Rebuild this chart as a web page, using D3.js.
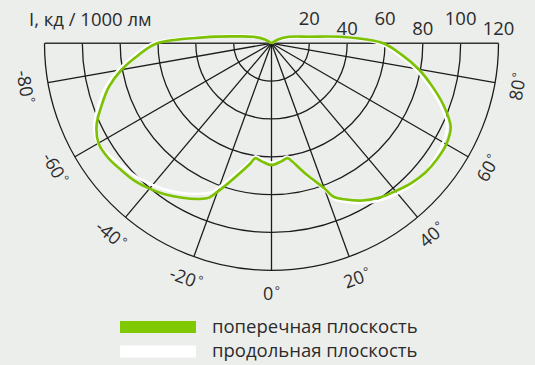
<!DOCTYPE html>
<html>
<head>
<meta charset="utf-8">
<script src="https://cdn.jsdelivr.net/npm/d3@7"></script>
<style>
  body { margin: 0; background: #eceeec; }
  text { font-family: "Open Sans", sans-serif; fill: #2b2b2b; }
</style>
</head>
<body>
<div id="chart"></div>
<script>
// angles in degrees, 0 = straight down, positive to the right
var angles = [-130, -120, -110, -100, -95, -90, -85, -80, -75, -70, -65, -60, -55, -50, -45, -40, -35, -30, -25, -22, -20, -15, -10, -8, -5, 0,
              5, 8, 10, 15, 20, 22, 25, 30, 35, 40, 45, 50, 55, 60, 65, 70, 75, 80, 85, 90, 95, 100, 110, 120, 130];
var crossPlane = [0, 4, 10, 21, 36, 60.5, 70.5, 80.5, 89, 95.5, 102, 105.6, 105.5, 104, 102.6, 100.3, 97.6, 94.3, 90.8, 88, 83.6, 73, 64.5, 61.3, 62.5, 64.3,
                  62.5, 61.3, 63.5, 72, 81.5, 87.5, 91, 96, 99.5, 102, 104.5, 106.2, 106.8, 106.7, 104.5, 97, 88, 79, 69, 59, 38, 20, 10, 4, 0];
var longPlane = [0, 6, 12, 23, 38.5, 62.5, 72.5, 82.5, 91, 97.5, 103.5, 105.8, 104, 102, 100.3, 97.8, 95, 91.7, 87.8, 85, 81, 71, 63, 60.3, 61.3, 63,
                 61.5, 60.5, 63, 72.5, 82.5, 89, 92.5, 97.5, 101.2, 103.6, 105.5, 106.2, 105.6, 104.8, 102.5, 95, 86, 77, 67, 57, 36, 18, 8, 2.5, 0];

var rings = [20, 40, 60, 80, 100, 120];
var spokes = [-80, -60, -40, -20, 0, 20, 40, 60, 80];
var legendNames = ["поперечная плоскость", "продольная плоскость"];
var title = "I, кд / 1000 лм";

var width = 535, height = 365;
var cx = 271.5, cy = 43.3;
var green = "#7cc200", white = "#ffffff";

var svg = d3.select("#chart").append("svg")
    .attr("width", width)
    .attr("height", height);

var r = d3.scaleLinear().domain([0, 120]).range([0, 227]);

var g = svg.append("g").attr("transform", "translate(" + cx + "," + cy + ")");

function rad(a) { return a * Math.PI / 180; }

// rings (lower half)
g.selectAll(".ring")
  .data(rings)
  .enter().append("path")
    .attr("class", "ring")
    .attr("d", function(d) {
      var p = d3.path();
      p.moveTo(-r(d), 0);
      p.arc(0, 0, r(d), Math.PI, 0, true);
      return p.toString();
    })
    .attr("fill", "none")
    .attr("stroke", "#1c1c1c")
    .attr("stroke-width", 1.3);

g.selectAll(".spoke")
  .data(spokes)
  .enter().append("line")
    .attr("class", "spoke")
    .attr("x1", 0).attr("y1", 0)
    .attr("x2", function(d) { return r(120) * Math.sin(rad(d)); })
    .attr("y2", function(d) { return r(120) * Math.cos(rad(d)); })
    .attr("stroke", "#1c1c1c")
    .attr("stroke-width", 1.3);

g.append("line")
    .attr("x1", -r(120)).attr("x2", r(120))
    .attr("y1", 0).attr("y2", 0)
    .attr("stroke", "#333")
    .attr("stroke-width", 1.5);

// curves
var line = d3.lineRadial()
    .angle(function(d) { return Math.PI - rad(d[0]); })
    .radius(function(d) { return r(d[1]); })
    .curve(d3.curveCatmullRom.alpha(0.5));

g.append("path")
    .datum(d3.zip(angles, longPlane))
    .attr("d", line)
    .attr("fill", "none")
    .attr("stroke", white)
    .attr("stroke-width", 2.6)
    .attr("stroke-linejoin", "round");

g.append("path")
    .datum(d3.zip(angles, crossPlane))
    .attr("d", line)
    .attr("fill", "none")
    .attr("stroke", green)
    .attr("stroke-width", 2.6)
    .attr("stroke-linejoin", "round");

// top scale labels
g.selectAll(".tick")
  .data(rings)
  .enter().append("text")
    .attr("class", "tick")
    .attr("x", function(d) { return r(d); })
    .attr("y", function(d, i) { return i % 2 == 0 ? -18.5 : -8.5; })
    .attr("text-anchor", "middle")
    .style("font-size", "18.5px")
    .text(function(d) { return d; });

// angle labels
var al = g.selectAll(".alabel")
  .data(spokes)
  .enter().append("text")
    .attr("class", "alabel")
    .attr("transform", function(d) {
      var x = 250 * Math.sin(rad(d)), y = 250 * Math.cos(rad(d));
      return "translate(" + x + "," + y + ") rotate(" + (-d) + ")";
    })
    .attr("text-anchor", "middle")
    .attr("dy", "0.35em")
    .style("font-size", "18px");

al.append("tspan").text(function(d) { return d; });
al.append("tspan")
    .attr("dx", 1.5)
    .attr("dy", -5)
    .style("font-size", "12px")
    .text("°");

svg.append("text")
    .attr("x", 29).attr("y", 26)
    .style("font-size", "18.5px")
    .text(title);

// legend
var legend = svg.selectAll(".legend")
  .data(legendNames)
  .enter().append("g")
    .attr("class", "legend")
    .attr("transform", function(d, i) { return "translate(120," + (321 + i * 24.5) + ")"; });

legend.append("rect")
    .attr("width", 76).attr("height", 12)
    .attr("fill", function(d, i) { return i == 0 ? "#80c800" : white; });

legend.append("text")
    .attr("x", 92).attr("y", 11.5)
    .style("font-size", "18.5px")
    .text(function(d) { return d; });
</script>
</body>
</html>
